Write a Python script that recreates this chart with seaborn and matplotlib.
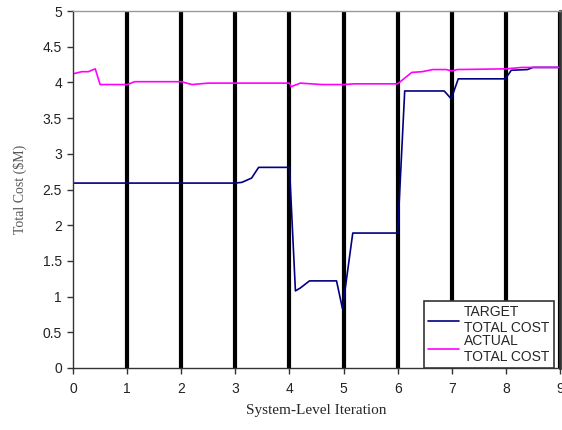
import pandas as pd
import matplotlib.pyplot as plt
import seaborn as sns

# target total cost
target_x = [0, 1, 2, 3, 3.12, 3.3, 3.43, 4.0, 4.11, 4.2, 4.37, 4.87, 4.98, 5.17, 6.0,
            6.13, 6.86, 6.99, 7.12, 7.99, 8.1, 8.4, 8.5, 9.0]
target_y = [2.59, 2.59, 2.59, 2.59, 2.6, 2.66, 2.81, 2.81, 1.08, 1.12, 1.22, 1.22, 0.83, 1.89, 1.89,
            3.88, 3.88, 3.77, 4.05, 4.05, 4.17, 4.18, 4.21, 4.21]

# actual total cost
actual_x = [0, 0.16, 0.28, 0.41, 0.5, 1.0, 1.14, 2.0, 2.2, 2.5, 3.0, 4.0, 4.03, 4.2, 4.6,
            5.0, 5.2, 6.0, 6.26, 6.45, 6.65, 6.9, 7.0, 7.1, 8.0, 8.3, 9.0]
actual_y = [4.12, 4.15, 4.15, 4.19, 3.97, 3.97, 4.01, 4.01, 3.97, 3.99, 3.99, 3.99, 3.94, 3.99, 3.97,
            3.97, 3.98, 3.98, 4.14, 4.15, 4.18, 4.18, 4.16, 4.18, 4.19, 4.21, 4.21]

series_names = ['TARGET\nTOTAL COST', 'ACTUAL\nTOTAL COST']
series_colors = ['#000080', '#FF00FF']

df = pd.concat([
    pd.DataFrame({'x': target_x, 'cost': target_y, 'series': series_names[0]}),
    pd.DataFrame({'x': actual_x, 'cost': actual_y, 'series': series_names[1]}),
])

sns.set_style('white')
plt.rcParams['font.family'] = ['Liberation Sans', 'DejaVu Sans']

fig = plt.figure(figsize=(5.62, 4.30), dpi=100)
ax = fig.add_axes([0.130, 0.1442, 0.8664, 0.8302])

sns.lineplot(data=df, x='x', y='cost', hue='series', palette=series_colors,
             estimator=None, sort=False, linewidth=1.2, ax=ax)

ax.set_xlim(0, 9)
ax.set_ylim(0, 5)
ax.set_xticks(range(0, 10))
ax.set_yticks([0, 0.5, 1, 1.5, 2, 2.5, 3, 3.5, 4, 4.5, 5])
ax.set_yticklabels(['0', '0.5', '1', '1.5', '2', '2.5', '3', '3.5', '4', '4.5', '5'])
ax.tick_params(axis='both', labelsize=10, direction='out', length=4, width=1,
               colors='#333333', labelcolor='#222222', bottom=True, left=True, pad=4)
ax.tick_params(axis='x', pad=6)

# thick black vertical grid at each iteration
ax.xaxis.grid(True, color='black', linewidth=3)
ax.xaxis.get_gridlines()[0].set_visible(False)
ax.set_axisbelow(True)

for side in ['left', 'bottom']:
    ax.spines[side].set_color('#333333')
    ax.spines[side].set_linewidth(1)
ax.spines['top'].set_color('#999999')
ax.spines['top'].set_linewidth(1)
ax.spines['right'].set_color('#333333')
ax.spines['right'].set_linewidth(2)

ax.set_xlabel('System-Level Iteration', family='Liberation Serif', fontsize=11, labelpad=6)
ax.set_ylabel('Total Cost ($M)', family='Liberation Serif', fontsize=10, color='#555555', labelpad=11)

leg = ax.legend(loc='lower right', bbox_to_anchor=(0.987, 0.0), borderaxespad=0,
                fontsize=10, frameon=True, fancybox=False, handlelength=2.2,
                borderpad=0.3, labelspacing=-0.1, handletextpad=0.4)
leg.get_frame().set_edgecolor('#333333')
leg.get_frame().set_linewidth(1.2)
leg.get_frame().set_alpha(1)

fig.savefig('out.png', dpi=100)
